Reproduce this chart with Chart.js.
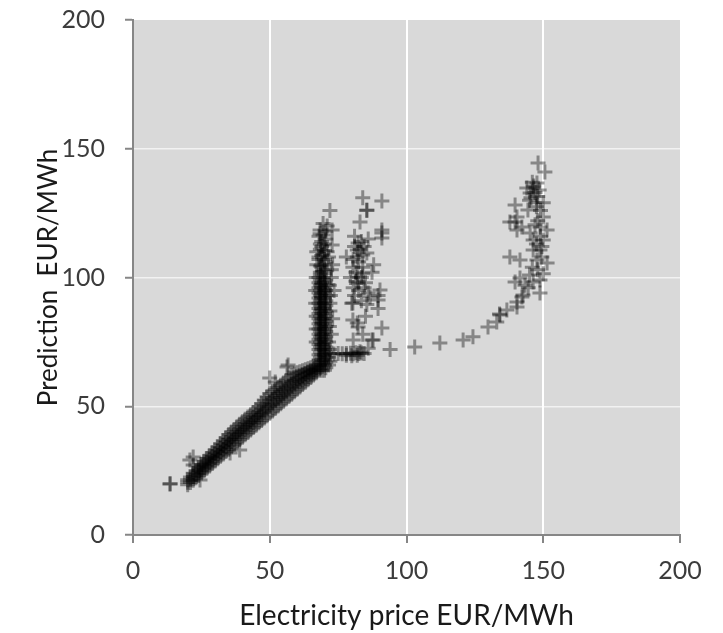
<!DOCTYPE html>
<html>
<head>
<meta charset="utf-8">
<script src="https://cdn.jsdelivr.net/npm/chart.js@4/dist/chart.umd.min.js"></script>
<style>
    html, body { margin: 0; padding: 0; background: #ffffff; }
    #wrap { width: 723px; height: 633px; }
</style>
</head>
<body>
<div id="wrap"><canvas id="priceChart" width="723" height="633"></canvas></div>
<script>
// Electricity price vs prediction (EUR/MWh)

const xTicks = [0, 50, 100, 150, 200];
const yTicks = [0, 50, 100, 150, 200];

// low-price outliers
const lowPoints = [
    [13.5, 19.8], [13.6, 19.9], [20.8, 29.1], [22, 27.2], [22, 30.3],
    [24.5, 21.4], [35.5, 31.8], [39, 33], [50, 61], [52, 59.4], [56.3, 65.2], [56.7, 66]
];

// main diagonal band (price, prediction)
const bandPoints = [
    [20, 19.5], [20, 20.5], [20, 21.5], [21, 20.4], [21, 21.5], [21, 22.5],
    [22, 21.3], [22, 22.7], [22, 24.0], [23, 22.2], [23, 23.6], [23, 25.0],
    [24, 23.1], [24, 24.2], [24, 25.2], [24, 26.3], [25, 24.1], [25, 25.2], [25, 26.4], [25, 27.5],
    [26, 25.0], [26, 26.2], [26, 27.4], [26, 28.6], [27, 25.9], [27, 27.2], [27, 28.4], [27, 29.7],
    [28, 26.8], [28, 28.1], [28, 29.5], [28, 30.8], [29, 27.8], [29, 29.2], [29, 30.5], [29, 31.9],
    [30, 28.7], [30, 30.1], [30, 31.6], [30, 33.0], [31, 29.6], [31, 31.1], [31, 32.7], [31, 34.2],
    [32, 30.6], [32, 32.2], [32, 33.8], [32, 35.4], [33, 31.5], [33, 33.2], [33, 34.9], [33, 36.6],
    [34, 32.4], [34, 34.2], [34, 36.0], [34, 37.8], [35, 33.3], [35, 35.2], [35, 37.1], [35, 39.0],
    [36, 34.3], [36, 36.2], [36, 38.1], [36, 40.0], [37, 35.2], [37, 37.1], [37, 39.1], [37, 41.0],
    [38, 36.1], [38, 38.1], [38, 40.0], [38, 42.0], [39, 37.1], [39, 39.1], [39, 41.0], [39, 43.0],
    [40, 38.0], [40, 40.0], [40, 42.0], [40, 44.0], [41, 38.9], [41, 40.9], [41, 43.0], [41, 45.0],
    [42, 39.8], [42, 41.8], [42, 43.8], [42, 45.8], [43, 40.8], [43, 42.8], [43, 44.7], [43, 46.7],
    [44, 41.7], [44, 43.7], [44, 45.6], [44, 47.6], [45, 42.6], [45, 44.6], [45, 46.5], [45, 48.5],
    [46, 43.6], [46, 45.7], [46, 47.7], [46, 49.8], [47, 44.5], [47, 46.7], [47, 48.9], [47, 51.1],
    [48, 45.4], [48, 47.7], [48, 50.1], [48, 52.4], [49, 46.3], [49, 48.8], [49, 51.2], [49, 53.7],
    [50, 47.3], [50, 49.9], [50, 52.4], [50, 55.0], [51, 48.2], [51, 50.7], [51, 53.3], [51, 55.8],
    [52, 49.1], [52, 51.6], [52, 54.1], [52, 56.6], [53, 50.1], [53, 52.5], [53, 55.0], [53, 57.4],
    [54, 51.0], [54, 53.4], [54, 55.8], [54, 58.2], [55, 51.9], [55, 54.3], [55, 56.6], [55, 59.0],
    [56, 52.8], [56, 55.2], [56, 57.6], [56, 60.0], [57, 53.8], [57, 56.2], [57, 58.6], [57, 61.0],
    [58, 54.7], [58, 57.1], [58, 59.6], [58, 62.0], [59, 55.6], [59, 57.9], [59, 60.2], [59, 62.5],
    [60, 56.6], [60, 58.7], [60, 60.9], [60, 63.0], [61, 57.5], [61, 59.5], [61, 61.4], [61, 63.4],
    [62, 58.4], [62, 60.2], [62, 62.0], [62, 63.8], [63, 59.3], [63, 61.0], [63, 62.6], [63, 64.2],
    [64, 60.3], [64, 61.7], [64, 63.2], [64, 64.6], [65, 61.2], [65, 62.5], [65, 63.7], [65, 65.0],
    [66, 62.1], [66, 63.2], [66, 64.4], [66, 65.5], [67, 63.0], [67, 64.0], [67, 65.0], [67, 66.0]
];

// near-vertical column around 68-71 EUR/MWh
const columnPoints = [
    [68, 64], [69, 64], [70, 64], [68.5, 65], [70.5, 65], [68, 66], [69, 66], [70, 66],
    [68.5, 67], [70.5, 67], [68, 68], [69, 68], [70, 68], [68.5, 69], [70.5, 69],
    [68, 70], [69, 70], [70, 70], [68.5, 71], [70.5, 71], [68, 72], [69, 72], [70, 72],
    [68.5, 73], [70.5, 73], [68, 74], [69, 74], [70, 74], [68.5, 75], [70.5, 75],
    [68, 76], [69, 76], [70, 76], [68.5, 77], [70.5, 77], [68, 78], [69, 78], [70, 78],
    [68.5, 79], [70.5, 79], [68, 80], [69, 80], [70, 80], [68.5, 81], [70.5, 81],
    [68, 82], [69, 82], [70, 82], [68.5, 83], [70.5, 83], [68, 84], [69, 84], [70, 84],
    [68.5, 85], [70.5, 85], [68, 86], [69, 86], [70, 86], [68.5, 87], [70.5, 87],
    [68, 88], [69, 88], [70, 88], [68.5, 89], [70.5, 89], [68, 90], [69, 90], [70, 90],
    [68.5, 91], [70.5, 91], [68, 92], [69, 92], [70, 92], [68.5, 93], [70.5, 93],
    [68, 94], [69, 94], [70, 94], [68.5, 95], [70.5, 95], [68, 96], [69, 96], [70, 96],
    [68.5, 97], [70.5, 97], [68, 98], [69, 98], [70, 98], [68.5, 99], [70.5, 99],
    [68, 100], [69.5, 100], [68.5, 101], [70, 101.5], [68.5, 102], [70, 103], [69, 104],
    [69, 105], [70.5, 106], [68, 107], [68, 108], [69.5, 109], [71, 110], [68.5, 111],
    [70, 113], [72.8, 112.6], [69, 114], [70.5, 115], [68, 116], [68.4, 117], [68.4, 118.4],
    [72.8, 118.4], [72, 126], [71, 120], [69.5, 121], [70, 110.5], [69, 112],
    [69.5, 102.5], [68.5, 104.5], [70, 107], [69, 108.5], [68.5, 113], [69.5, 116.5], [70.5, 118],
    [72.5, 78], [73, 84], [72, 87], [72, 90], [73.5, 95], [72.5, 100], [73, 105],
    [71.8, 81], [72.2, 93], [71.8, 97], [72.5, 103], [71.5, 108],
    [71.5, 66], [71.5, 69], [71.8, 72], [71.5, 75], [72, 67.5],
    [67, 75], [67, 85], [66.8, 95], [67.2, 105], [67, 80], [66.8, 90], [67, 100], [67.2, 110]
];

// horizontal run near 70 EUR/MWh prediction
const barPoints = [
    [72, 70.5], [73.5, 70.3], [75, 70.5], [76.5, 70.4], [78, 70.5], [79.5, 70.6],
    [80.5, 70.4], [81.5, 70.8], [82.5, 70.5], [83.5, 70.7], [84.5, 70.5],
    [80, 69.6], [82, 69.8], [78, 69.8], [83, 71.2]
];

// scattered cluster at 78-94 EUR/MWh
const clusterPoints = [
    [84, 131], [91, 129.7], [85.5, 126], [85.5, 126.2], [83, 121.6], [91, 118.4], [91, 117.3],
    [91, 115.3], [82, 110.7], [84, 108.7], [87.4, 102], [89.6, 93], [89.6, 88], [80, 90],
    [82, 82.3], [91, 80.4], [80.5, 75.7], [87.4, 75.7], [87.8, 75.7], [94, 72],
    [82.3, 113.4], [85.5, 109.5], [82, 100.2], [82.3, 97.9], [86.7, 92.4], [80.4, 104],
    [80.4, 90.1], [80.4, 83.5], [82.3, 80.8], [89.6, 91.3], [90.3, 95.1],
    [81, 112], [83, 111], [84.5, 112], [80.5, 107], [82.5, 106], [84, 104], [81.5, 102],
    [83.5, 100], [85, 98], [80.5, 96], [82.5, 95], [84.5, 96], [86, 94], [81, 93],
    [83.5, 91], [85.5, 89.5], [78, 108], [79.5, 100], [86, 115], [81, 116], [88, 105],
    [85, 85], [84, 78], [86, 72.5], [82, 108], [83.5, 114], [81.5, 98.5], [84, 101.5]
];

// high-price arc
const arcPoints = [
    [103, 73], [112.2, 74.6], [120.7, 75.7], [124.3, 77], [129.8, 80.8], [133, 82.7],
    [134.2, 85.4], [134, 85.8], [136.7, 87.4], [140.4, 88.5], [140.4, 90.5], [142.2, 92.4],
    [142.6, 93.2], [143.3, 97], [139.7, 98.3], [141.5, 99.8], [146.3, 98.3], [148.8, 99],
    [148.8, 94], [137.8, 108], [141.5, 106.8], [147.7, 106.8], [151.4, 105.6], [148.8, 110.7],
    [146.3, 110.7], [146.3, 114.6], [150, 114.6], [145.2, 117.3], [148.8, 119.6], [151.4, 118.4],
    [139.7, 121.6], [137.8, 121.6], [140.4, 123.5], [140.4, 118.4], [142.2, 119.6],
    [139.7, 128.2], [144.4, 126.2], [147.7, 129], [145.2, 132.8], [146.3, 134.8], [144, 134.8],
    [147.7, 136.7], [150, 129], [150, 123.5], [148.1, 144.5], [150.6, 141],
    [145.5, 131], [147, 133], [146, 137], [148, 131.5], [149, 126], [148, 122],
    [149, 116], [147.5, 113], [149.5, 108], [148, 103], [150, 101.5], [146, 104],
    [147, 120.5], [149.5, 112], [145, 101], [144.5, 96], [147.5, 127.5],
    [146.5, 135.5], [145, 130], [148.5, 134]
];

const allPoints = [].concat(lowPoints, bandPoints, columnPoints, barPoints, clusterPoints, arcPoints);

const axisColor = '#868686';
const tickFont = { family: 'Lato', size: 25 };

// gray plot background
const plotBackground = {
    id: 'plotBackground',
    beforeDraw(chart) {
        const { ctx, chartArea } = chart;
        ctx.save();
        ctx.fillStyle = '#d9d9d9';
        ctx.fillRect(chartArea.left, chartArea.top, chartArea.right - chartArea.left, chartArea.bottom - chartArea.top);
        ctx.restore();
    }
};

function gridColor(alpha) {
    return (context) => {
        const v = context.tick ? context.tick.value : null;
        if (v === 0 || v === 200) return 'rgba(0,0,0,0)';
        return 'rgba(255,255,255,' + alpha + ')';
    };
}

const ctx = document.getElementById('priceChart').getContext('2d');
const chart = new Chart(ctx, {
    type: 'scatter',
    data: {
        datasets: [{
            data: allPoints.map(p => ({ x: p[0], y: p[1] })),
            pointStyle: 'cross',
            pointRadius: 7.5,
            pointBorderWidth: 3,
            pointBorderColor: 'rgba(0,0,0,0.38)',
            pointBackgroundColor: 'rgba(0,0,0,0)'
        }]
    },
    options: {
        responsive: false,
        animation: false,
        events: [],
        layout: { padding: { top: 20, right: 43, left: 0, bottom: 0 } },
        plugins: {
            legend: { display: false },
            tooltip: { enabled: false }
        },
        scales: {
            x: {
                type: 'linear',
                min: 0,
                max: 200,
                afterBuildTicks: (scale) => { scale.ticks = xTicks.map(v => ({ value: v })); },
                afterFit: (scale) => { scale.height = 98; },
                ticks: { font: tickFont, color: '#3c3c3c', padding: 13, maxRotation: 0 },
                grid: { color: gridColor(1), lineWidth: 2, tickColor: axisColor, tickWidth: 2, tickLength: 8 },
                border: { display: true, color: axisColor, width: 2 },
                title: { display: true, text: 'Electricity price EUR/MWh', font: { family: 'Lato', size: 28 }, color: '#1a1a1a', padding: { top: 6, bottom: 0 } }
            },
            y: {
                type: 'linear',
                min: 0,
                max: 200,
                afterBuildTicks: (scale) => { scale.ticks = yTicks.map(v => ({ value: v })); },
                afterFit: (scale) => {
                    scale.width = 133;
                    scale.paddingTop = 0;
                    scale.paddingBottom = 0;
                },
                ticks: { font: tickFont, color: '#3c3c3c', padding: 20 },
                grid: { color: gridColor(0.65), lineWidth: 1.5, tickColor: axisColor, tickWidth: 2, tickLength: 8 },
                border: { display: true, color: axisColor, width: 2 },
                title: { display: true, text: 'Prediction  EUR/MWh', font: { family: 'Lato', size: 26 }, color: '#1a1a1a', padding: { top: 33, bottom: 0 } }
            }
        }
    },
    plugins: [plotBackground]
});
</script>
</body>
</html>
